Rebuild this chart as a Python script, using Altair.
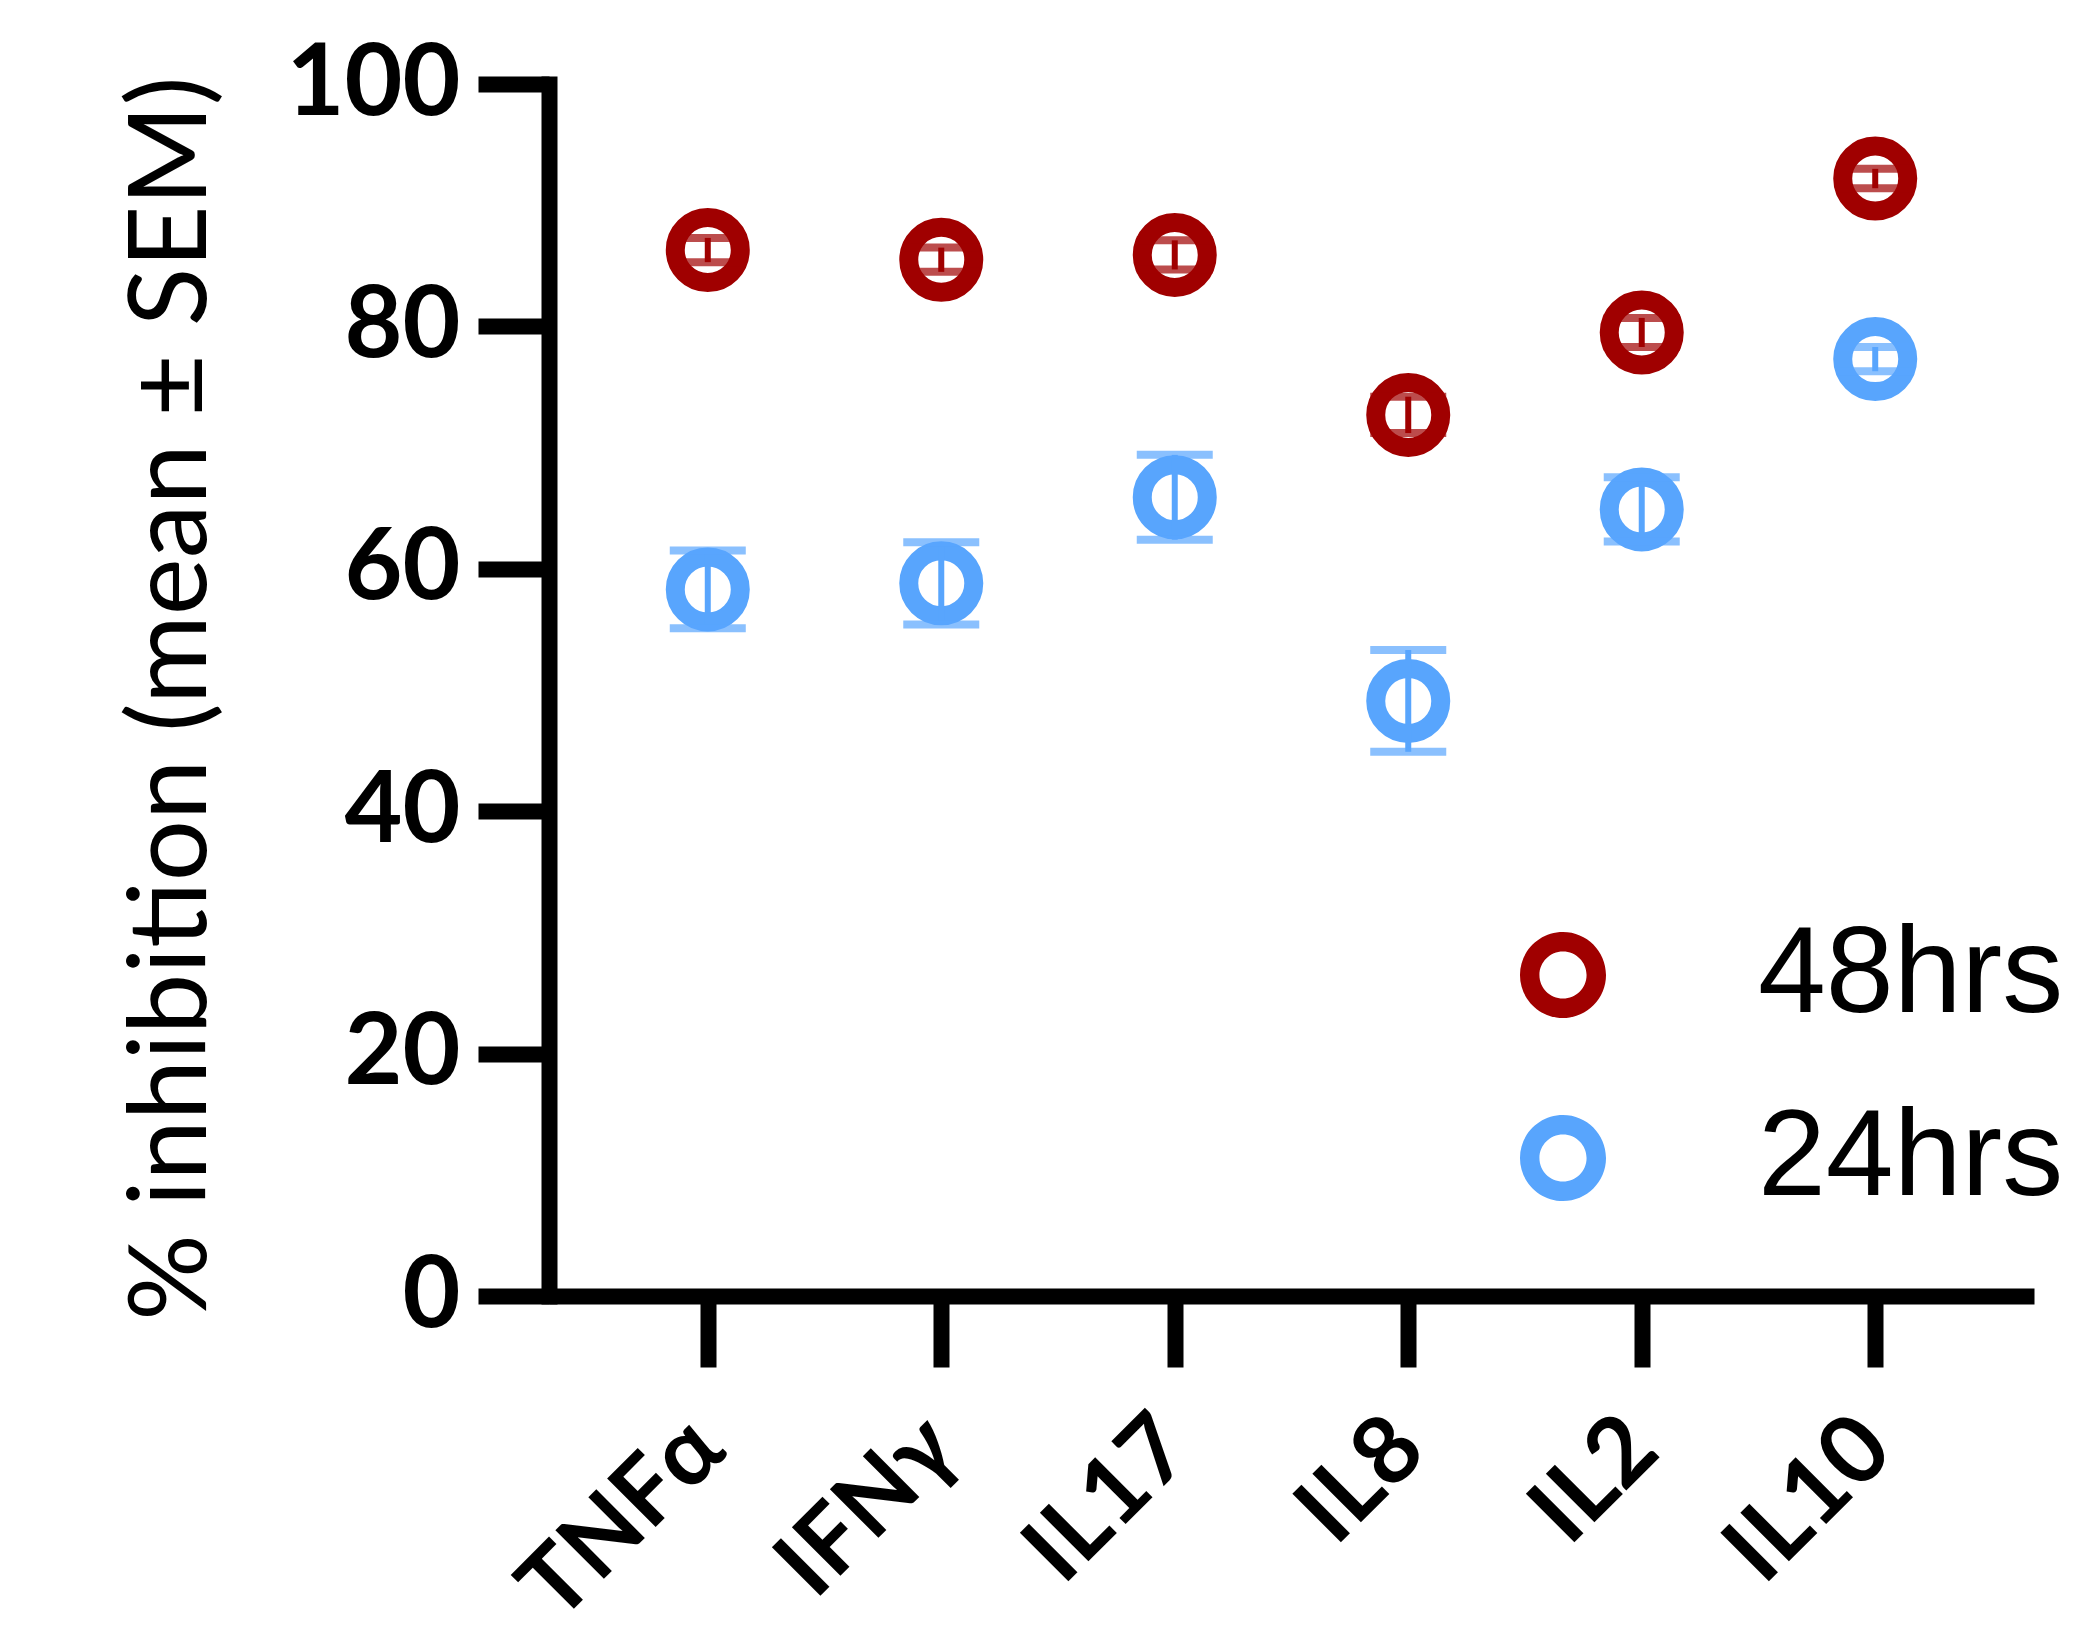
import altair as alt
import pandas as pd

categories = ["TNFα", "IFNγ", "IL17", "IL8", "IL2", "IL10"]
mean_48 = [86.3, 85.5, 85.9, 72.7, 79.5, 92.2]
sem_48 = [1.0, 1.0, 1.2, 1.5, 1.2, 0.8]
mean_24 = [58.3, 58.8, 65.9, 49.1, 64.9, 77.3]
sem_24 = [3.2, 3.4, 3.5, 4.2, 2.65, 1.0]
series = ["48hrs", "24hrs"]
colors = ["#A00000", "#58A5FD"]
y_ticks = [0, 20, 40, 60, 80, 100]

rows = []
for s, means, sems in [(series[0], mean_48, sem_48), (series[1], mean_24, sem_24)]:
    for c, m, e in zip(categories, means, sems):
        rows.append({"cat": c, "series": s, "mean": m, "lo": m - e, "hi": m + e})
df = pd.DataFrame(rows)

color_scale = alt.Scale(domain=series, range=colors)

# ring-shaped legend symbol (outer radius 1, hole radius 0.548)
ring_path = ("M-1,0A1,1,0,1,1,1,0A1,1,0,1,1,-1,0Z"
             "M-0.548,0A0.548,0.548,0,1,0,0.548,0A0.548,0.548,0,1,0,-0.548,0Z")

x_enc = alt.X(
    "cat:N", sort=categories, title=None,
    scale=alt.Scale(type="point", padding=0.68),
    axis=alt.Axis(
        labelAngle=-45, labelAlign="right", labelBaseline="middle",
        labelFont="Lato", labelFontWeight="bold", labelFontSize=95,
        labelColor="black", labelPadding=66, labelLimit=1000,
        tickSize=71, tickWidth=16, tickColor="black",
        domainWidth=16, domainColor="black", grid=False,
    ),
)
y_scale = alt.Scale(domain=[0, 100], nice=False)
y_axis = alt.Axis(
    values=y_ticks, title="% inhibition (mean ± SEM)",
    titleFont="Lato", titleFontWeight="normal", titleFontSize=108,
    titleColor="black", titleX=-376, titleY=614, titleAlign="center",
    titleBaseline="middle", titleAngle=270,
    labelFont="Lato", labelFontWeight="bold", labelFontSize=100,
    labelColor="black", labelPadding=18,
    tickSize=71, tickWidth=16, tickColor="black",
    domainWidth=16, domainColor="black", domainCap="square", grid=False,
)

base = alt.Chart(df)

points = base.mark_point(shape="circle", filled=False, strokeWidth=19, size=4225,
                         opacity=1).encode(
    x=x_enc,
    y=alt.Y("mean:Q", scale=y_scale, axis=y_axis),
    stroke=alt.Stroke(
        "series:N", scale=color_scale, sort=series,
        legend=alt.Legend(
            orient="none", legendX=953, legendY=830, title=None,
            symbolType=ring_path, symbolSize=7400, symbolStrokeWidth=0,
            symbolOpacity=1,
            labelFont="Liberation Sans", labelFontSize=122, labelColor="black",
            labelOffset=134, rowPadding=61, padding=0, labelLimit=600,
        ),
    ),
)

stems = base.mark_rule(strokeWidth=6).encode(
    x=alt.X("cat:N", sort=categories),
    y=alt.Y("lo:Q", scale=y_scale),
    y2="hi:Q",
    stroke=alt.Stroke("series:N", scale=color_scale, legend=None),
)
caps_hi = base.mark_tick(size=76, thickness=8).encode(
    x=alt.X("cat:N", sort=categories),
    y=alt.Y("hi:Q", scale=y_scale),
    fill=alt.Fill("series:N", scale=color_scale, legend=None),
)
caps_lo = base.mark_tick(size=76, thickness=8).encode(
    x=alt.X("cat:N", sort=categories),
    y=alt.Y("lo:Q", scale=y_scale),
    fill=alt.Fill("series:N", scale=color_scale, legend=None),
)

chart = alt.layer(points, stems, caps_lo, caps_hi).properties(
    width=1485, height=1212,
    padding={"left": 541, "top": 76, "right": 42, "bottom": 326},
    autosize=alt.AutoSizeParams(type="none"),
    background="white",
).configure_view(strokeWidth=0)

chart.save("out.html", embed_options={"renderer": "svg", "actions": False})
